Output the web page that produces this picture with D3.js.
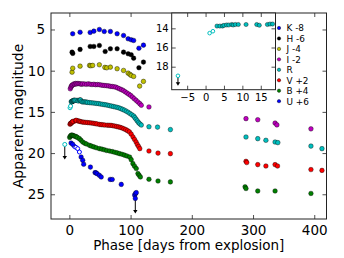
<!DOCTYPE html>
<html>
<head>
<meta charset="utf-8">
<script src="https://cdn.jsdelivr.net/npm/d3@7"></script>
<style>
  body { margin: 0; background: #fff; }
  text { font-family: "DejaVu Sans", sans-serif; fill: #000; }
  .axis path { display: none; }
  .axis line { stroke: #222; stroke-width: 0.8; }
  .frame { fill: none; stroke: #222; stroke-width: 1; }
</style>
</head>
<body>
<div id="vis"></div>
<script>
// Light curves, one array per band: [phase (days), apparent magnitude as plotted]

var bandLabels = ['K -8', 'H -6', 'J -4', 'I -2', 'R', 'V +2', 'B +4', 'U +6'];
var bandColors = ['#0000ff', '#000000', '#bfbf00', '#bf00bf', '#00bfbf', '#ff0000', '#008000', '#0000ff'];

var kBand = [[5.4,5.52],[17.5,5.33],[34,5.36],[40,5.2],[49,5.0],[57,5.24],[67,5.24],[78,5.52],
  [88.5,5.73],[96,6.13],[101,6.25],[105,6.33],[113.6,7.27],[121,6.9]];

var hBand = [[4.4,7.75],[5.5,7.9],[17.5,7.42],[34,7.06],[40,7.06],[49,6.94],[58.5,7.67],[67,7.34],
  [78,7.34],[88.5,7.75],[96,7.95],[101,8.07],[105,8.48],[113.6,9.64],[121,8.96]];

var jBand = [[4.4,10.18],[5.5,9.7],[17.5,9.45],[33,9.36],[35,9.4],[38,9.36],[49,9.28],[58,9.6],
  [61,9.65],[67,9.57],[78,9.76],[88.5,9.97],[96,10.3],[99,10.45],[101,10.58],[105,10.7],
  [114.8,11.87],[121,11.3]];

var iBand = [[1.5,12.2],[2.5,12.0],[3.5,11.85],[4.5,11.75],[6,11.7],[7.5,11.6],[9,11.65],[10.5,11.55],
  [12,11.6],[14,11.55],[16,11.58],[18,11.6],[20,11.65],[22,11.6],[25,11.62],[28,11.65],[31,11.6],
  [34,11.65],[37,11.68],[40,11.65],[43,11.7],[46,11.68],[49,11.7],[52,11.75],[55,11.78],[58,11.8],
  [61,11.82],[64,11.85],[67,11.9],[70,11.92],[73,11.95],[76,12.0],[79,12.1],[82,12.2],[85,12.3],
  [88,12.4],[91,12.55],[94,12.7],[97,12.85],[100,13.0],[103,13.2],[106,13.4],[109,13.6],[112,13.8],
  [115,14.0],[117.5,14.2],[130,14.4],[288.5,15.82],[307.7,15.95],[336,16.36],[339,16.58],[394.6,17.06]];

var rBand = [[3.1,13.76],[3.9,13.76],[4.6,13.76],[5.0,13.69],[5.7,13.65],[6.3,13.65],[7.1,13.6],
  [7.5,13.65],[8.1,13.6],[8.9,13.6],[11.0,13.6],[13.9,13.6],[14.6,13.68],[16.8,13.6],[17.5,13.55],
  [18.2,13.55],[20,13.75],[22,13.8],[24,13.78],[26,13.8],[28,13.82],[30,13.85],[33,13.88],[36,13.9],
  [39,13.92],[42,13.95],[45,13.98],[48,14.0],[51,14.05],[54,14.08],[57,14.12],[60,14.15],[63,14.2],
  [66,14.25],[69,14.3],[72,14.35],[75,14.4],[78,14.45],[81,14.52],[84,14.6],[87,14.7],[90,14.8],
  [93,14.92],[96,15.05],[99,15.2],[102,15.35],[105,15.5],[107,15.7],[109,15.9],[111,16.1],[113,16.3],
  [115,16.45],[117.5,16.6],[130,16.8],[144,16.85],[165,17.15],[288.5,18.05],[307.7,18.25],[321,18.45],
  [336,18.66],[340.5,18.73],[394.6,19.15],[412.6,19.46]];
var rOpen  = [[1.1,14.5],[2.0,14.3]];
var rLimit = [[-7.5,18.95]];

var vBand = [[1.1,16.5],[2.0,16.4],[2.8,16.36],[4,16.3],[5,16.2],[6,16.15],[10,16.05],[11.5,16.03],
  [15,16.1],[17,16.15],[19,16.2],[21.8,16.24],[24,16.25],[27,16.28],[30,16.3],[33,16.32],[36,16.35],
  [39,16.38],[42,16.42],[45,16.46],[49,16.52],[52,16.55],[55,16.57],[58,16.6],[62,16.62],[65,16.63],
  [68,16.64],[71,16.68],[74,16.72],[77,16.77],[80,16.82],[83,16.88],[86,16.95],[89,17.05],[92,17.15],
  [95,17.28],[98,17.42],[101,17.7],[104,18.05],[106.5,18.35],[109,18.66],[111,18.95],[113,19.2],
  [115,19.46],[130,19.75],[144.8,20.0],[165,20.07],[288.5,21.0],[289.7,21.15],[307.7,21.4],[321,21.57],
  [336,21.4],[340,21.57],[394.6,22.0],[412.6,22.1]];
var vOpen = [[8,16.15],[13.5,16.1]];

var bBand = [[0.5,18.1],[1.5,17.95],[2.8,17.85],[4,17.82],[5.4,17.85],[7,17.9],[9,17.95],[11,18.0],
  [13,18.1],[16.4,18.25],[19,18.45],[21.8,18.66],[25,18.8],[28,18.9],[32.8,19.06],[36,19.15],[40,19.25],
  [44,19.35],[49,19.46],[53,19.52],[57,19.6],[61,19.68],[65.6,19.75],[70,19.82],[74,19.9],[78,19.98],
  [82,20.07],[86,20.15],[90,20.25],[94,20.35],[98.4,20.48],[101,20.8],[103.8,21.28],[106.5,21.6],
  [109.3,21.88],[112,22.49],[114,22.7],[116,22.9],[130,23.18],[144.8,23.39],[165,23.5],[287,24.1],
  [288.5,24.3],[307.7,24.6],[336,24.6],[394.6,24.9]];

var uBand = [[2.8,18.78],[5.4,18.94],[19.2,20.48],[21.8,20.88],[23.4,21.36],[34.4,21.7],[42,22.37],
  [43.5,22.4],[45.4,22.5],[49,22.7],[52,22.9],[66.7,23.2],[70,23.2],[84.8,23.8],[106.6,25.1],
  [108,24.9],[109.3,24.8]];
var uOpen  = [[8.2,19.18],[10.7,19.3],[13.6,19.46],[16.4,19.87]];
var uLimit = [[107.7,25.5]];

var xTicks = [0, 100, 200, 300, 400];
var yTicks = [5, 10, 15, 20, 25];
var insetXTicks = [-5, 0, 5, 10, 15];
var insetYTicks = [14, 16, 18];

var svg, vis, inset;
var margin = { top: 13, left: 51 };
var width = 275.5, height = 206;

function init() {
  svg = d3.select('#vis').append('svg')
    .attr('width', 344)
    .attr('height', 258);

  vis = svg.append('g')
    .attr('transform', `translate(${margin.left},${margin.top})`);

  var x = d3.scaleLinear().domain([-30, 420]).range([0, width]);
  var y = d3.scaleLinear().domain([3, 28]).range([0, height]);

  // series, bottom band first so upper ones sit on top like the original
  var series = [
    { data: uBand, open: uOpen, limit: uLimit, limitFilled: true, color: bandColors[7] },
    { data: bBand, color: bandColors[6] },
    { data: vBand, open: vOpen, color: bandColors[5] },
    { data: rBand, open: rOpen, limit: rLimit, color: bandColors[4] },
    { data: iBand, color: bandColors[3] },
    { data: jBand, color: bandColors[2] },
    { data: hBand, color: bandColors[1] },
    { data: kBand, color: bandColors[0] }
  ];
  series.forEach(s => drawSeries(vis, s, x, y, 2.3, 15));

  drawAxes(vis, x, y, width, height, xTicks, yTicks, 13.5, 6, 6);

  vis.append('text')
    .attr('text-anchor', 'middle')
    .attr('x', width / 2)
    .attr('y', height + 31)
    .style('font-size', '13.5px')
    .text('Phase [days from explosion]');
  vis.append('text')
    .attr('text-anchor', 'middle')
    .attr('transform', 'rotate(-90)')
    .attr('x', -height / 2)
    .attr('y', -28)
    .style('font-size', '14px')
    .text('Apparent magnitude');

  // legend (no frame, inside the right part of the axes)
  var legend = vis.append('g')
    .attr('transform', `translate(${279 - margin.left},${28 - margin.top})`);
  bandLabels.forEach((lab, i) => {
    var row = legend.append('g').attr('transform', `translate(0,${i * 10.45})`);
    row.append('circle').attr('r', 1.7)
      .attr('fill', bandColors[i]).attr('stroke', '#000').attr('stroke-width', 0.4);
    row.append('text').attr('x', 7.5).attr('y', 3.4)
      .style('font-size', '8.9px').text(lab);
  });

  // inset: early R band
  var iw = 103.8, ih = 76.7;
  inset = svg.append('g').attr('transform', 'translate(171.7,13)');
  inset.append('rect').attr('width', iw).attr('height', ih).attr('fill', '#fff');
  var ix = d3.scaleLinear().domain([-9.2, 19]).range([0, iw]);
  var iy = d3.scaleLinear().domain([12.4, 20.4]).range([0, ih]);
  var clip = d => d[0] >= -9.2 && d[0] <= 19;
  drawSeries(inset, {
    data: rBand.filter(clip), open: rOpen.filter(clip), limit: rLimit.filter(clip),
    color: bandColors[4]
  }, ix, iy, 2.1, 10);
  drawAxes(inset, ix, iy, iw, ih, insetXTicks, insetYTicks, 10, 4, 3);
}

function drawSeries(g, s, x, y, r, arrowLen) {
  // upper limits: arrow pointing down
  (s.limit || []).forEach(d => {
    var cx = x(d[0]), cy = y(d[1]);
    g.append('line').attr('x1', cx).attr('x2', cx)
      .attr('y1', cy).attr('y2', cy + arrowLen - 2)
      .attr('stroke', '#000').attr('stroke-width', 1);
    g.append('path')
      .attr('d', `M${cx - 2.2},${cy + arrowLen - 3.5}L${cx + 2.2},${cy + arrowLen - 3.5}L${cx},${cy + arrowLen}Z`)
      .attr('fill', '#000');
  });
  var hollow = (s.open || []).concat(s.limitFilled ? [] : (s.limit || []));
  var filled = s.data.concat(s.limitFilled ? s.limit : []);
  g.selectAll(null).data(hollow).join('circle')
    .attr('cx', d => x(d[0])).attr('cy', d => y(d[1])).attr('r', r - 0.3)
    .attr('fill', '#fff').attr('stroke', s.color).attr('stroke-width', 1);
  g.selectAll(null).data(filled).join('circle')
    .attr('cx', d => x(d[0])).attr('cy', d => y(d[1])).attr('r', r)
    .attr('fill', s.color).attr('stroke', '#000').attr('stroke-width', 0.4);
}

function drawAxes(g, x, y, w, h, xt, yt, fs, xpad, ypad) {
  g.append('g').attr('class', 'axis')
    .attr('transform', `translate(0,${h})`)
    .call(d3.axisBottom(x).tickValues(xt).tickSize(-4).tickPadding(xpad).tickFormat(d => d < 0 ? '\u2212' + (-d) : d))
    .selectAll('text').style('font-size', fs + 'px').attr('fill', '#000');
  g.append('g').attr('class', 'axis')
    .call(d3.axisTop(x).tickValues(xt).tickSize(-4).tickFormat(''));
  g.append('g').attr('class', 'axis')
    .call(d3.axisLeft(y).tickValues(yt).tickSize(-4).tickPadding(ypad))
    .selectAll('text').style('font-size', fs + 'px').attr('fill', '#000');
  g.append('g').attr('class', 'axis')
    .attr('transform', `translate(${w},0)`)
    .call(d3.axisRight(y).tickValues(yt).tickSize(-4).tickFormat(''));
  g.selectAll('.axis text').attr('font-family', null);
  g.append('rect').attr('class', 'frame').attr('width', w).attr('height', h);
}

init();
</script>
</body>
</html>
